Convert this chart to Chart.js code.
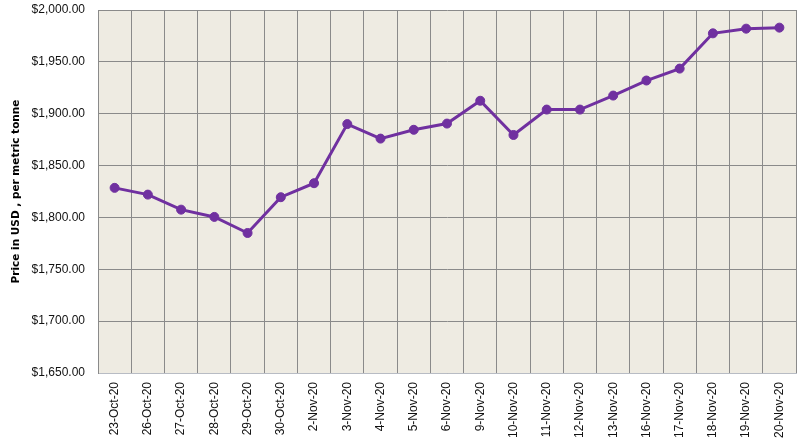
<!DOCTYPE html>
<html>
<head>
<meta charset="utf-8">
<script src="https://cdn.jsdelivr.net/npm/chart.js@4/dist/chart.umd.min.js"></script>
<style>
  html, body { margin: 0; padding: 0; background: #fff; }
  #wrap { width: 803px; height: 445px; }
</style>
</head>
<body>
<div id="wrap"><canvas id="graph" width="803" height="445"></canvas></div>
<script>
const dates = ["23-Oct-20", "26-Oct-20", "27-Oct-20", "28-Oct-20", "29-Oct-20", "30-Oct-20",
  "2-Nov-20", "3-Nov-20", "4-Nov-20", "5-Nov-20", "6-Nov-20", "9-Nov-20", "10-Nov-20",
  "11-Nov-20", "12-Nov-20", "13-Nov-20", "16-Nov-20", "17-Nov-20", "18-Nov-20",
  "19-Nov-20", "20-Nov-20"];
const prices = [1828.5, 1822, 1807.5, 1800.5, 1785, 1819.5, 1833, 1890, 1876, 1884.5,
  1890.5, 1912.5, 1879.5, 1904, 1904, 1917.5, 1932, 1943.5, 1977.5, 1982, 1983];
const yMin = 1650;
const yMax = 2000;
const yStep = 50;

const graphRef = document.getElementById("graph");

// fill plot area like excel
const plotBg = {
  id: "plotBg",
  beforeDraw(chart) {
    const { ctx, chartArea: a } = chart;
    ctx.save();
    ctx.fillStyle = "#eeebe2";
    ctx.fillRect(a.left, a.top, a.right - a.left, a.bottom - a.top);
    ctx.restore();
  },
};

const chart = new Chart(graphRef, {
  type: "line",
  data: {
    labels: dates,
    datasets: [{
      label: "Price",
      data: prices,
      borderColor: "#7030a0",
      backgroundColor: "#7030a0",
      borderWidth: 3,
      pointRadius: 4.5,
      pointBorderWidth: 1,
      pointHoverRadius: 4.5,
      tension: 0,
    }],
  },
  options: {
    responsive: false,
    animation: false,
    devicePixelRatio: 1,
    layout: { padding: { top: 10, right: 7, left: 0, bottom: 0 } },
    plugins: { legend: { display: false }, tooltip: { enabled: false } },
    scales: {
      x: {
        offset: true,
        grid: { offset: true, color: "#8a8a8a", lineWidth: 1, drawTicks: false },
        border: { color: "#b8bcc4" },
        ticks: {
          autoSkip: false,
          maxRotation: 90,
          minRotation: 90,
          padding: 9,
          color: "#111",
          font: { family: "Liberation Sans", size: 12 },
        },
        afterFit(scale) {
          scale.height = 72;
          scale.paddingLeft = 0;
          scale.paddingRight = 0;
        },
      },
      y: {
        min: yMin,
        max: yMax,
        ticks: {
          stepSize: yStep,
          padding: 13,
          color: "#111",
          font: { family: "Liberation Sans", size: 12 },
          callback: (v) => "$" + v.toLocaleString("en-US", { minimumFractionDigits: 2, maximumFractionDigits: 2 }),
        },
        grid: { color: "#8a8a8a", lineWidth: 1, drawTicks: false },
        border: { color: "#8a8a8a" },
        title: {
          display: true,
          text: "Price in USD , per metric tonne",
          color: "#000",
          font: { family: "DejaVu Sans", size: 10.5, weight: "bold" },
          padding: { top: 10, bottom: 4 },
        },
        afterFit(scale) {
          scale.width = 98;
          scale.paddingTop = 0;
          scale.paddingBottom = 0;
        },
      },
    },
  },
  plugins: [plotBg],
});
</script>
</body>
</html>
